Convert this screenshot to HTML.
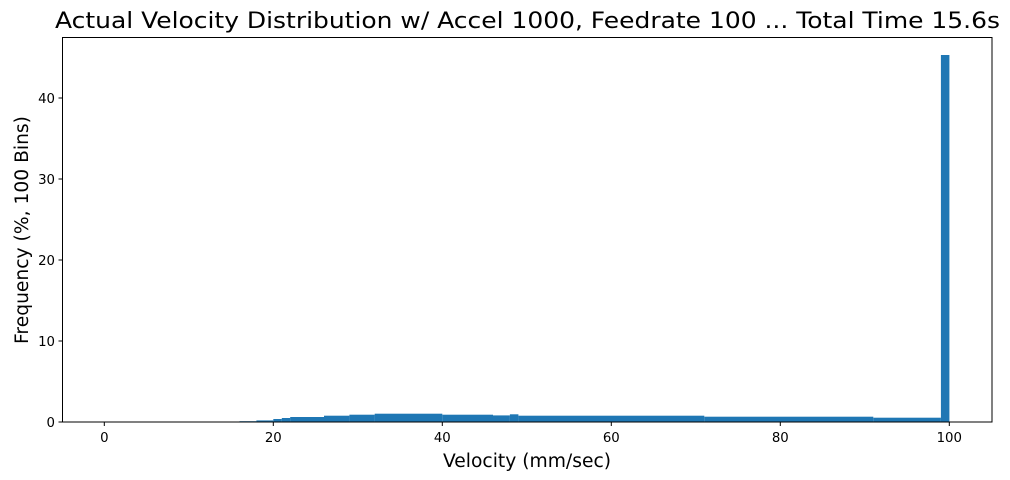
<!DOCTYPE html>
<html><head><meta charset="utf-8"><style>html,body{margin:0;padding:0;background:#fff}svg{display:block}</style></head>
<body>
<svg width="1010" height="480" viewBox="0 0 1010 480" xmlns="http://www.w3.org/2000/svg" font-family="DejaVu Sans, Liberation Sans, sans-serif">
<rect width="1010" height="480" fill="#fff"/>
<g fill="#1f77b4">
<rect x="239.5" y="421.2" width="16.9" height="0.8"/>
<rect x="256.4" y="420.4" width="16.9" height="1.6"/>
<rect x="273.3" y="419" width="8.5" height="3"/>
<rect x="281.8" y="418" width="8.5" height="4"/>
<rect x="290.2" y="417" width="33.8" height="5"/>
<rect x="324" y="415.7" width="25.4" height="6.3"/>
<rect x="349.4" y="414.7" width="25.4" height="7.3"/>
<rect x="374.7" y="413.7" width="67.6" height="8.3"/>
<rect x="442.3" y="414.7" width="50.7" height="7.3"/>
<rect x="493" y="415.4" width="16.9" height="6.6"/>
<rect x="509.9" y="414.3" width="8.5" height="7.7"/>
<rect x="518.4" y="415.7" width="185.9" height="6.3"/>
<rect x="704.3" y="416.7" width="169" height="5.3"/>
<rect x="873.3" y="417.7" width="67.6" height="4.3"/>
<rect x="940.9" y="55" width="8.5" height="367"/>
</g>
<rect x="62.5" y="37.5" width="929.5" height="384.5" fill="none" stroke="#000" stroke-width="1"/>
<g stroke="#000" stroke-width="1">
<line x1="104.3" y1="422" x2="104.3" y2="426"/>
<line x1="273.3" y1="422" x2="273.3" y2="426"/>
<line x1="442.3" y1="422" x2="442.3" y2="426"/>
<line x1="611.3" y1="422" x2="611.3" y2="426"/>
<line x1="780.3" y1="422" x2="780.3" y2="426"/>
<line x1="949.3" y1="422" x2="949.3" y2="426"/>
<line x1="58.5" y1="422" x2="62.5" y2="422"/>
<line x1="58.5" y1="341" x2="62.5" y2="341"/>
<line x1="58.5" y1="260" x2="62.5" y2="260"/>
<line x1="58.5" y1="179" x2="62.5" y2="179"/>
<line x1="58.5" y1="98" x2="62.5" y2="98"/>
</g>
<g font-size="13.3" fill="#000" text-anchor="middle">
<text x="104.3" y="442">0</text>
<text x="273.3" y="442">20</text>
<text x="442.3" y="442">40</text>
<text x="611.3" y="442">60</text>
<text x="780.3" y="442">80</text>
<text x="949.3" y="442">100</text>
</g>
<g font-size="13.3" fill="#000" text-anchor="end">
<text x="55" y="427">0</text>
<text x="55" y="346">10</text>
<text x="55" y="265">20</text>
<text x="55" y="184">30</text>
<text x="55" y="103">40</text>
</g>
<text x="527" y="467" font-size="18.7" text-anchor="middle">Velocity (mm/sec)</text>
<text transform="translate(28,230) rotate(-90)" font-size="18.7" text-anchor="middle">Frequency (%, 100 Bins)</text>
<text x="55" y="28" font-size="22.4" textLength="945" lengthAdjust="spacingAndGlyphs">Actual Velocity Distribution w/ Accel 1000, Feedrate 100 ... Total Time 15.6s</text>
</svg>
</body></html>
